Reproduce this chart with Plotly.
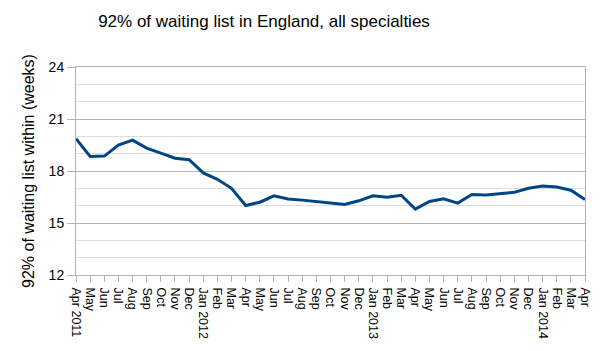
import plotly.graph_objects as go

months = ["Apr 2011", "May", "Jun", "Jul", "Aug", "Sep", "Oct", "Nov", "Dec",
          "Jan 2012", "Feb", "Mar", "Apr", "May", "Jun", "Jul", "Aug", "Sep", "Oct", "Nov", "Dec",
          "Jan 2013", "Feb", "Mar", "Apr", "May", "Jun", "Jul", "Aug", "Sep", "Oct", "Nov", "Dec",
          "Jan 2014", "Feb", "Mar", "Apr"]
weeks = [19.87, 18.84, 18.86, 19.49, 19.78, 19.32, 19.03, 18.74, 18.65,
         17.89, 17.52, 17.0, 16.01, 16.2, 16.57, 16.38, 16.32, 16.22, 16.15, 16.07, 16.28,
         16.57, 16.49, 16.6, 15.8, 16.24, 16.4, 16.15, 16.64, 16.62, 16.68, 16.77, 17.0,
         17.14, 17.08, 16.89, 16.35]
y_ticks = [12, 15, 18, 21, 24]

idx = list(range(len(months)))

fig = go.Figure()
fig.add_trace(go.Scatter(x=idx, y=weeks, mode="lines",
                         line=dict(color="#004586", width=3)))

fig.update_layout(
    width=604, height=351,
    margin=dict(l=76, r=12, t=67, b=74),
    paper_bgcolor="white", plot_bgcolor="white",
    showlegend=False,
    font=dict(family="Liberation Sans, Arial, sans-serif", color="#000000", size=12),
    title=dict(text="92% of waiting list in England, all specialties",
               x=264 / 604, xanchor="center", y=0.94, yanchor="middle",
               font=dict(size=17, color="#000")),
)
fig.update_xaxes(
    range=[0, 36], tickmode="array", tickvals=idx, ticktext=months,
    tickangle=90, ticks="outside", ticklen=6, tickcolor="#b3b3b3",
    ticklabelstandoff=3,
    showgrid=False, showline=True, linecolor="#b3b3b3", mirror=True,
    tickfont=dict(size=12.5), zeroline=False,
)
fig.update_yaxes(
    range=[12, 24], tickmode="array", tickvals=y_ticks,
    ticks="outside", ticklen=8, tickcolor="#b3b3b3",
    showgrid=True, gridcolor="#b3b3b3", gridwidth=1,
    minor=dict(dtick=1, showgrid=True, gridcolor="#dddddd", gridwidth=1),
    showline=True, linecolor="#b3b3b3", mirror=True,
    tickfont=dict(size=14), zeroline=False,
    title=dict(text="92% of waiting list within (weeks)", font=dict(size=16), standoff=10),
)

fig.write_html("out.html")
